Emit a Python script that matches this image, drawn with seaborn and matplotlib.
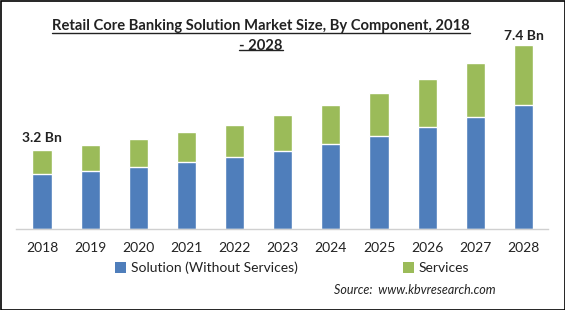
import matplotlib
matplotlib.use("Agg")
import matplotlib.pyplot as plt
import seaborn as sns
import pandas as pd
from matplotlib.patches import Patch, Rectangle
from matplotlib.lines import Line2D

years = ["2018", "2019", "2020", "2021", "2022", "2023", "2024", "2025", "2026", "2027", "2028"]
solution = [2.22, 2.34, 2.50, 2.70, 2.90, 3.16, 3.43, 3.75, 4.11, 4.52, 5.00]
services = [0.97, 1.05, 1.13, 1.21, 1.29, 1.44, 1.57, 1.75, 1.94, 2.17, 2.42]
series_names = ["Solution (Without Services)", "Services"]
first_label = "3.2 Bn"
last_label = "7.4 Bn"
title = "Retail Core Banking Solution Market Size, By Component, 2018\n- 2028"
source = "Source:  www.kbvresearch.com"

BLUE = "#4F7EBB"
GREEN = "#9BBB59"

sns.set_theme(style="white")
plt.rcParams["font.family"] = ["Lato", "DejaVu Sans"]

df = pd.DataFrame({"year": years, "solution": solution, "services": services})
df["total"] = df["solution"] + df["services"]

W, H = 565, 310
fig = plt.figure(figsize=(W / 100, H / 100), dpi=100)
ax = fig.add_axes([16 / W, 1 - 229 / H, (548 - 16) / W, (229 - 38) / H])

sns.barplot(data=df, x="year", y="total", color=GREEN, width=0.4, saturation=1, ax=ax)
sns.barplot(data=df, x="year", y="solution", color=BLUE, width=0.4, saturation=1, ax=ax)

ax.set_xlim(-0.54, 10.51)
ax.set_ylim(0, (229 - 38) / 24.8)
ax.set_xlabel("")
ax.set_ylabel("")
ax.set_yticks([])
for s in ["top", "left", "right"]:
    ax.spines[s].set_visible(False)
ax.spines["bottom"].set_color("#D0D0D0")
ax.spines["bottom"].set_linewidth(1)
ax.tick_params(axis="x", length=0, pad=9, labelsize=10, labelcolor="#222222")

ax.text(0, df["total"].iloc[0] + 0.25, first_label, ha="center", va="bottom",
        fontsize=10, fontweight="bold", color="#222222")
ax.text(10, df["total"].iloc[-1] + 0.12, last_label, ha="center", va="bottom",
        fontsize=10, fontweight="bold", color="#222222")

TFS = 10.6
TCX = 261
t = fig.text(TCX / W, 1 - 19 / H, title, ha="center", va="top", fontsize=TFS,
             fontweight="bold", color="#222222", linespacing=1.55)

handles = [Patch(facecolor=BLUE, edgecolor="none"), Patch(facecolor=GREEN, edgecolor="none")]
fig.legend(handles, series_names, loc="center", bbox_to_anchor=(292 / W, 1 - 268 / H),
           ncol=2, frameon=False, fontsize=10, handlelength=0.8, handleheight=0.8,
           handletextpad=0.3, columnspacing=7.6, labelcolor="#222222")

fig.text(415 / W, 1 - 290 / H, source, ha="center", va="center", fontsize=9,
         style="italic", color="#222222")

# underline title lines
fig.canvas.draw()
r = fig.canvas.get_renderer()
bb = t.get_window_extent(r)
lines = title.split("\n")
n = len(lines)
lh = bb.height / n
for i, ln in enumerate(lines):
    tmp = fig.text(0, 0, ln, fontsize=TFS, fontweight="bold")
    wb = tmp.get_window_extent(r)
    tmp.remove()
    w = wb.width
    ybase = bb.y1 - (i + 1) * lh + lh * 0.2
    x0 = (TCX - w / 2) / W
    x1 = (TCX + w / 2) / W
    fig.add_artist(Line2D([x0, x1], [ybase / H, ybase / H], color="#222222", lw=1,
                          transform=fig.transFigure))

fig.add_artist(Rectangle((0.5 / W, 0.5 / H), 1 - 1 / W, 1 - 1 / H, transform=fig.transFigure,
                         fill=False, edgecolor="black", lw=1.2))

fig.savefig("out.png", dpi=100)
